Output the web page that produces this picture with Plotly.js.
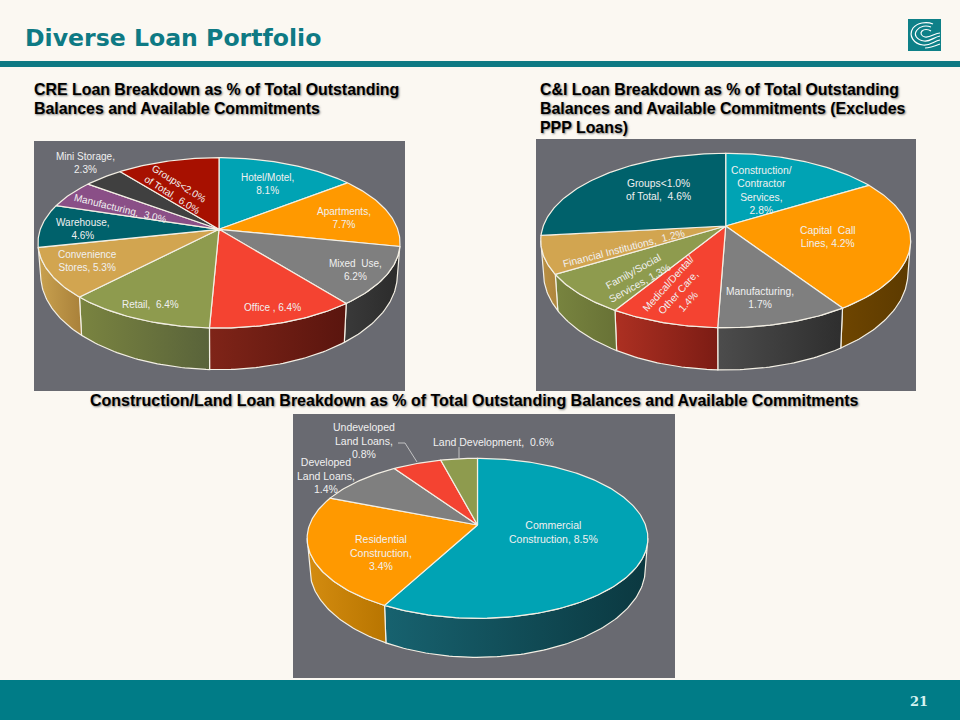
<!DOCTYPE html>
<html>
<head>
<meta charset="utf-8">
<script src="https://cdn.plot.ly/plotly-3.0.1.min.js"></script>
<style>html,body{margin:0;padding:0;background:#FBF8F2}#chart{width:960px;height:720px}</style>
</head>
<body>
<div id="chart"></div>
<script>
// ---------- data ----------
const creCategories = ["Hotel/Motel","Apartments","Mixed Use","Office","Retail","Convenience Stores","Warehouse","Manufacturing","Mini Storage","Groups<2.0% of Total"];
const creValues = [8.1,7.7,6.2,6.4,6.4,5.3,4.6,3.0,2.3,6.0];
const ciCategories = ["Construction/Contractor Services","Capital Call Lines","Manufacturing","Medical/Dental/Other Care","Family/Social Services","Financial Institutions","Groups<1.0% of Total"];
const ciValues = [2.8,4.2,1.7,1.4,1.3,1.2,4.6];
const landCategories = ["Commercial Construction","Residential Construction","Developed Land Loans","Undeveloped Land Loans","Land Development"];
const landValues = [8.5,3.4,1.4,0.8,0.6];

const creLabels = ["Hotel/Motel,<br>8.1%","Apartments,<br>7.7%","Mixed\u00A0 Use,<br>6.2%","Office , 6.4%","Retail,\u00A0 6.4%","Convenience<br>Stores, 5.3%","Warehouse,<br>4.6%","Manufacturing,\u00A0 3.0%","Mini Storage,<br>2.3%","Groups<2.0%<br>of Total,\u00A0 6.0%"];
const ciLabels = ["Construction/<br>Contractor<br>Services,<br>2.8%","Capital\u00A0 Call<br>Lines, 4.2%","Manufacturing,<br>1.7%","Medical/Dental/<br>Other Care,<br>1.4%","Family/Social<br>Services, 1.3%","Financial Institutions,\u00A0 1.2%","Groups<1.0%<br>of Total,\u00A0 4.6%"];
const landLabels = ["Commercial<br>Construction, 8.5%","Residential<br>Construction,<br>3.4%","Developed<br>Land Loans,<br>1.4%","Undeveloped<br>Land Loans,<br>0.8%","Land Development,\u00A0 0.6%"];

// ---------- styles ----------
const TEAL="#00A3B4",ORG="#FF9900",GRY="#7F7F7F",RED="#F44331",OLV="#8E9B4E",TAN="#D2A550",DTL="#00616B",PUR="#8A4F87",DGY="#404040",MAR="#A71000";
const creColors=[TEAL,ORG,GRY,RED,OLV,TAN,DTL,PUR,DGY,MAR];
const ciColors=[TEAL,ORG,GRY,RED,OLV,TAN,DTL];
const landColors=[TEAL,ORG,GRY,RED,OLV];
const creWalls=[null,null,["#3a3a3a","#2b2b2b"],["#7f2418","#5a150e"],["#7a8440","#59633a"],["#c9a14f","#a9813a"],null,null,null,null];
const ciWalls=[null,["#6e4500","#5c3a00"],["#4c4c4c","#2e2e2e"],["#ad3022","#7c1c14"],["#78843f","#687236"],["#bb9144","#ad853c"],null];
const landWalls=[["#17626f","#0b3840"],["#d48c10","#b87500"],null,null,null];

const pies=[
 {cats:creCategories,vals:creValues,labels:creLabels,colors:creColors,walls:creWalls,fs:10,cx:219,cy:229.3,A:178.7,B:83,q:0.159,H:30.8,
  pos:[[267.3,184,0],[344.3,218.3,0],[355,270,0],[272.3,307.7,0],[150.7,304.3,0],[87.7,261,0],[83.3,228.7,0],[120.7,208.3,13.8],[85.7,163.3,0],[175.3,189,32]]},
 {cats:ciCategories,vals:ciValues,labels:ciLabels,colors:ciColors,walls:ciWalls,fs:10.3,cx:725.7,cy:226,A:182.4,B:84.8,q:0.166,H:31,
  pos:[[761.7,190.7,0],[828.3,237.3,0],[760,298.3,0],[678,293,-48],[636.7,277,-29],[623.5,248,-14.5],[658.7,190,0]]},
 {cats:landCategories,vals:landValues,labels:landLabels,colors:landColors,walls:landWalls,fs:10.5,cx:477.5,cy:525,A:168,B:77.8,q:0.1665,H:28.7,
  pos:[[553,532.3,0],[380.7,552.3,0],[325.7,475,0],[364,440.7,0],[493.3,441.7,0]]}
];
const EDGE="#F3EFE4", TXT="#F0F0F0", LABELFONT="Liberation Sans, Arial, sans-serif";
const XS=0.985, YS=1.11;

function topPt(p,deg){const t=deg*Math.PI/180,u=Math.sin(t),w=-Math.cos(t),d=1-p.q*w;return [p.A*u/d,p.B*w/d];}
function arc(p,a,b,bottom){
  const n=Math.max(2,Math.ceil(Math.abs(b-a)));const xs=[],ys=[];
  for(let i=0;i<=n;i++){const [x,y]=topPt(p,a+(b-a)*i/n);
    if(bottom){xs.push(p.cx+x*XS);ys.push(p.cy+p.H+y*YS);}else{xs.push(p.cx+x);ys.push(p.cy+y);}}
  return [xs,ys];
}
const traces=[],annotations=[];
function note(text,x,y,o){annotations.push(Object.assign({text,x,y,xref:"x",yref:"y",showarrow:false,xanchor:"center",yanchor:"middle",
  font:{family:LABELFONT,size:10,color:TXT}},o||{}));}

pies.forEach(p=>{
  const total=p.vals.reduce((s,v)=>s+v,0);
  const limit=Math.asin(p.q)*180/Math.PI;
  let start=0;const spans=p.vals.map(v=>{const a=start;start+=v/total*360;return [a,start];});
  // side walls
  spans.forEach((s,i)=>{
    if(!p.walls[i])return;
    const a=Math.max(s[0],90+limit),b=Math.min(s[1],270-limit);
    if(b<=a)return;
    const [tx,ty]=arc(p,a,b,false),[bx,by]=arc(p,b,a,true);
    traces.push({type:"scatter",mode:"lines",x:tx.concat(bx,[tx[0]]),y:ty.concat(by,[ty[0]]),fill:"toself",
      fillgradient:{type:"horizontal",colorscale:[[0,p.walls[i][0]],[1,p.walls[i][1]]]},
      line:{color:EDGE,width:1.2},hoverinfo:"skip",showlegend:false});
  });
  // top faces
  spans.forEach((s,i)=>{
    const [tx,ty]=arc(p,s[0],s[1],false);
    traces.push({type:"scatter",mode:"lines",x:[p.cx].concat(tx,[p.cx]),y:[p.cy].concat(ty,[p.cy]),fill:"toself",fillcolor:p.colors[i],
      line:{color:EDGE,width:1.2},name:p.cats[i],text:p.cats[i]+": "+p.vals[i]+"%",hoverinfo:"text",showlegend:false});
    note(p.labels[i],p.pos[i][0],p.pos[i][1],{textangle:p.pos[i][2],font:{family:LABELFONT,size:p.fs,color:TXT}});
  });
});

// headings
const H={family:LABELFONT,size:15.9,color:"#000000",weight:700,shadow:"1px 1px 2px rgba(90,90,90,0.75)"};
const headings=[["CRE Loan Breakdown as % of Total Outstanding",31.5,89],["Balances and Available Commitments",31.5,108],
 ["C&I Loan Breakdown as % of Total Outstanding",537.5,89],["Balances and Available Commitments (Excludes",537.5,108],["PPP Loans)",537.5,127]];
headings.forEach(h=>note(h[0],h[1],h[2],{xanchor:"left",font:H}));
note("Construction/Land Loan Breakdown as % of Total Outstanding Balances and Available Commitments",474.5,400,{font:Object.assign({},H,{size:16})});
note("Diverse Loan Portfolio",22.5,37.5,{xanchor:"left",font:{family:"DejaVu Sans, Verdana, sans-serif",size:23.6,weight:700,color:"#0E7A84"}});
note("21",919,701,{font:{family:"DejaVu Serif, serif",size:13,weight:700,color:"#D6F3F1"}});

const rect=(x0,y0,x1,y1,c)=>({type:"rect",xref:"x",yref:"y",x0,y0,x1,y1,fillcolor:c,line:{width:0},layer:"below"});
const seg=(path,w,c)=>({type:"path",xref:"x",yref:"y",path,line:{color:c,width:w},layer:"above"});
const shapes=[
 rect(0,61,960,67,"#0E7A84"),
 rect(0,680,960,720,"#007C87"),
 rect(34,141,405,391,"#696A71"),
 rect(536,139,916,391,"#696A71"),
 rect(293,414,675,678,"#696A71"),
 // leader lines
 seg("M398,443 L405,443 L417,462",0.8,"#D8D8D8"),
 seg("M459,447 L459,458",0.8,"#D8D8D8"),
 // logo
 rect(908,19,941,51,"#0E8088"),
 seg("M940,36 C934,37 930,42 924,41 C917,40 913,35 917,30 C920,26 926,25 931,27",1.2,"#FFFFFF"),
 seg("M940,40 C934,41 930,46 923,45 C914,44 908,36 913,28 C917,23 926,21 933,24",1.2,"#FFFFFF"),
 seg("M940,33 C935,33 930,38 925,37 C921,36 920,33 922,31 C924,29 928,29 931,31",1.2,"#FFFFFF"),
 seg("M940,44 C935,46 930,48 925,48",1.2,"#FFFFFF")
];

const layout={width:960,height:720,margin:{l:0,r:0,t:0,b:0},paper_bgcolor:"#FBF8F2",plot_bgcolor:"#FBF8F2",showlegend:false,
 xaxis:{range:[0,960],visible:false,fixedrange:true},yaxis:{range:[720,0],visible:false,fixedrange:true},
 shapes,annotations,hovermode:"closest"};
Plotly.newPlot("chart",traces,layout,{displayModeBar:false});
</script>
</body>
</html>
